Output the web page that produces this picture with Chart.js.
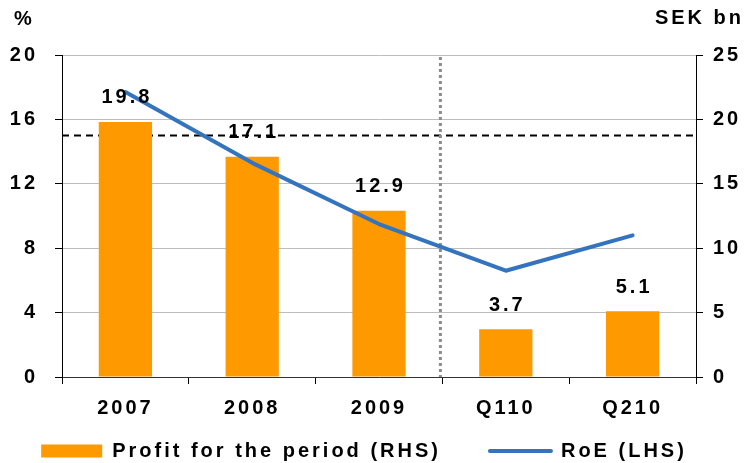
<!DOCTYPE html>
<html>
<head>
<meta charset="utf-8">
<script src="https://cdn.jsdelivr.net/npm/chart.js@4"></script>
<style>
html,body{margin:0;padding:0;background:#fff;}
#wrap{width:744px;height:463px;}
</style>
</head>
<body>
<div id="wrap"><canvas id="c" width="744" height="463"></canvas></div>
<script>
// ---- data ----
const categories = ['2007', '2008', '2009', 'Q110', 'Q210'];
const profitSEKbn = [19.8, 17.1, 12.9, 3.7, 5.1];
const roePercent = [17.7, 13.3, 9.5, 6.6, 8.8];
const roeTarget = 15;
const leftTicks = [0, 4, 8, 12, 16, 20];
const rightTicks = [0, 5, 10, 15, 20, 25];
const leftTitle = '%';
const rightTitle = 'SEK bn';
const seriesNames = ['Profit for the period (RHS)', 'RoE (LHS)'];

// ---- style ----
const FAMILY = "'Liberation Sans', Arial, sans-serif";
const ORANGE = '#FF9900';
const BLUE = '#3474BE';
const SPACING = '3px';
const font20 = { family: FAMILY, size: 20, weight: 'bold' };

const spacingPlugin = {
  id: 'spacing',
  beforeUpdate(c) { c.ctx.letterSpacing = SPACING; },
  beforeLayout(c) { c.ctx.letterSpacing = SPACING; },
  afterLayout(c) {
    const lg = c.legend;
    if (lg) {
      const h = lg.height;
      lg.top = 392;
      lg.bottom = 392 + h;
      lg.left = -16;
      lg.right = 744;
    }
  },
  beforeDraw(c) { c.ctx.letterSpacing = SPACING; }
};

const overlayPlugin = {
  id: 'overlay',
  beforeDatasetsDraw(c) {
    const ctx = c.ctx, ca = c.chartArea, xs = c.scales.x, yl = c.scales.yL;
    ctx.save();
    const y = yl.getPixelForValue(roeTarget);
    ctx.strokeStyle = '#000';
    ctx.lineWidth = 2;
    ctx.setLineDash([7, 5]);
    ctx.beginPath();
    ctx.moveTo(ca.left, y);
    ctx.lineTo(ca.right, y);
    ctx.stroke();
    const xd = (xs.getPixelForValue(2) + xs.getPixelForValue(3)) / 2 - 2;
    ctx.strokeStyle = '#8c8c8c';
    ctx.lineWidth = 3;
    ctx.setLineDash([3, 3]);
    ctx.beginPath();
    ctx.moveTo(xd, ca.top + 2);
    ctx.lineTo(xd, ca.bottom);
    ctx.stroke();
    ctx.restore();
  },
  afterDatasetsDraw(c) {
    const ctx = c.ctx;
    const meta = c.getDatasetMeta(0);
    ctx.save();
    ctx.letterSpacing = SPACING;
    ctx.font = 'bold 20px ' + FAMILY;
    ctx.fillStyle = '#000';
    ctx.textAlign = 'center';
    ctx.textBaseline = 'middle';
    meta.data.forEach((bar, i) => {
      ctx.fillText(profitSEKbn[i].toFixed(1), bar.x + 1.5, bar.y - 24);
    });
    ctx.restore();
  },
  afterDraw(c) {
    const ctx = c.ctx;
    ctx.save();
    ctx.letterSpacing = SPACING;
    ctx.font = 'bold 20px ' + FAMILY;
    ctx.fillStyle = '#000';
    ctx.textBaseline = 'middle';
    ctx.textAlign = 'left';
    ctx.fillText(leftTitle, 14, 19);
    ctx.textAlign = 'right';
    ctx.fillText(rightTitle, 744, 18);
    ctx.restore();
  }
};

Chart.defaults.font.family = FAMILY;
Chart.defaults.color = '#000';

new Chart(document.getElementById('c'), {
  type: 'bar',
  data: {
    labels: categories,
    datasets: [
      {
        type: 'bar',
        label: seriesNames[0],
        data: profitSEKbn,
        yAxisID: 'yR',
        backgroundColor: ORANGE,
        borderWidth: 0,
        categoryPercentage: 1,
        barPercentage: 0.42,
        order: 2
      },
      {
        type: 'line',
        label: seriesNames[1],
        data: roePercent,
        yAxisID: 'yL',
        borderColor: BLUE,
        backgroundColor: BLUE,
        borderWidth: 4,
        pointRadius: 0,
        tension: 0,
        borderCapStyle: 'round',
        borderJoinStyle: 'round',
        order: 1
      }
    ]
  },
  options: {
    responsive: false,
    animation: false,
    events: [],
    layout: { padding: { top: 55, left: -20, right: -20, bottom: -43 } },
    scales: {
      x: {
        type: 'category',
        offset: true,
        grid: { display: true, drawOnChartArea: false, offset: true, tickLength: 7, tickColor: '#000', tickWidth: 1 },
        border: { color: '#333', width: 1 },
        ticks: { padding: 12, font: font20, color: '#000', maxRotation: 0, autoSkip: false },
        afterFit(s) { s.height = 50; }
      },
      yL: {
        position: 'left',
        min: leftTicks[0],
        max: leftTicks[leftTicks.length - 1],
        ticks: { stepSize: leftTicks[1] - leftTicks[0], padding: 17, font: font20, color: '#000' },
        grid: { color: '#bdbdbd', lineWidth: 1, tickLength: 7, tickColor: '#000' },
        border: { color: '#000', width: 1 },
        afterFit(s) { s.width = 82; }
      },
      yR: {
        position: 'right',
        min: rightTicks[0],
        max: rightTicks[rightTicks.length - 1],
        ticks: { stepSize: rightTicks[1] - rightTicks[0], padding: 10, font: font20, color: '#000' },
        grid: { drawOnChartArea: false, tickLength: 7, tickColor: '#000' },
        border: { color: '#000', width: 1 },
        afterFit(s) { s.width = 68; }
      }
    },
    plugins: {
      tooltip: { enabled: false },
      legend: {
        position: 'bottom',
        align: 'center',
        labels: {
          usePointStyle: true,
          pointStyleWidth: 61,
          boxHeight: 13,
          padding: 49,
          font: font20,
          color: '#000',
          generateLabels() {
            return [
              { text: seriesNames[0], fillStyle: ORANGE, strokeStyle: ORANGE, lineWidth: 0, pointStyle: 'rect', datasetIndex: 0, hidden: false, fontColor: '#000' },
              { text: seriesNames[1], fillStyle: BLUE, strokeStyle: BLUE, lineWidth: 4, lineCap: 'round', pointStyle: 'line', datasetIndex: 1, hidden: false, fontColor: '#000' }
            ];
          }
        }
      }
    }
  },
  plugins: [spacingPlugin, overlayPlugin]
});
</script>
</body>
</html>
